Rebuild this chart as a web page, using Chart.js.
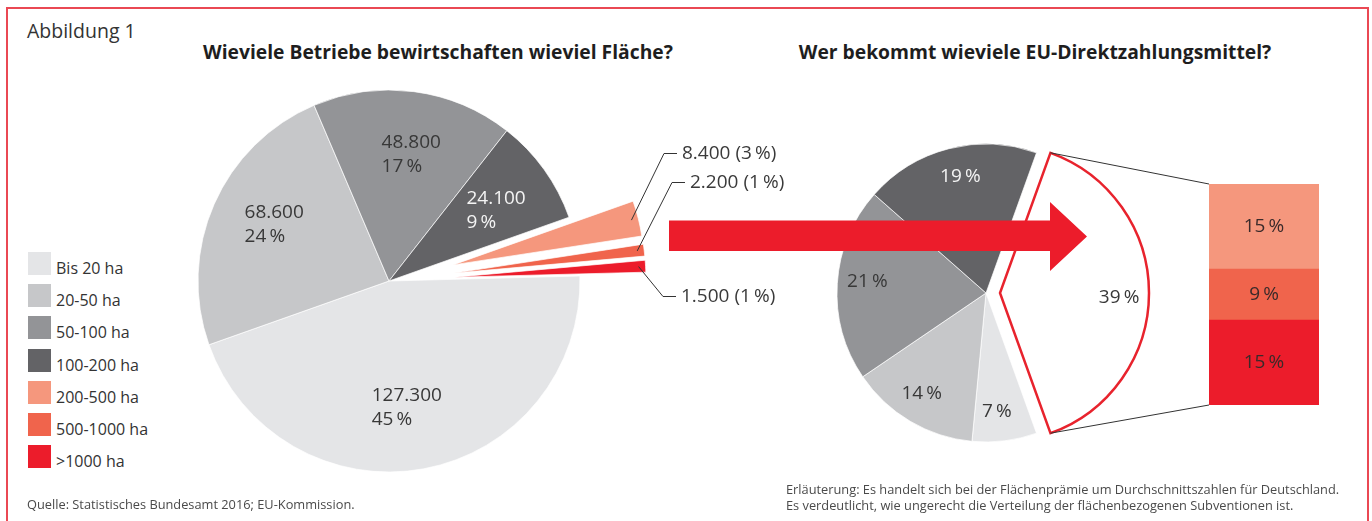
<!DOCTYPE html>
<html lang="de">
<head>
<meta charset="utf-8">
<title>Abbildung 1</title>
<script src="https://cdn.jsdelivr.net/npm/chart.js@4.4.1/dist/chart.umd.min.js"></script>
<style>
  html, body { margin: 0; padding: 0; background: #fff; }
  body { position: relative; width: 1372px; height: 521px; overflow: hidden;
         font-family: 'Open Sans', sans-serif; color: #3a3a3a; }
  .abs { position: absolute; white-space: nowrap; }
  #frame { position: absolute; left: 6px; top: 7px; width: 1363px; height: 560px;
           border: 2px solid #ea4853; box-sizing: border-box; }
  canvas { position: absolute; }
  .title { font-weight: 700; font-size: 19.3px; line-height: 24px; color: #1e1e1e; transform: translateX(-50%); }
  .small { font-size: 12.8px; line-height: 16px; color: #4a4a4a; }
  .callout { font-size: 19px; line-height: 24px; color: #3a3a3a; }
  .row { position: absolute; left: 28px; height: 23px; }
  .sw { position: absolute; left: 0; top: 0; width: 23px; height: 23px; }
  .tx { position: absolute; left: 28px; top: 5px; font-size: 16px; line-height: 23px; white-space: nowrap; color: #333; }
</style>
</head>
<body>
<div id="frame"></div>
<div class="abs" style="left:27px; top:19px; font-size:19.5px; line-height:24px; color:#333;">Abbildung 1</div>
<div class="abs title" style="left:438px; top:40px;">Wieviele Betriebe bewirtschaften wieviel Fläche?</div>
<div class="abs title" style="left:1035px; top:40px;">Wer bekommt wieviele EU-Direktzahlungsmittel?</div>
<div id="legend"></div>
<canvas id="farmPie" width="600" height="480" style="left:89px; top:41px;"></canvas>
<canvas id="paymentPie" width="400" height="400" style="left:786px; top:93px;"></canvas>
<canvas id="largeBar" width="110" height="221" style="left:1209px; top:184px;"></canvas>
<canvas id="overlay" width="1372" height="521" style="left:0; top:0; pointer-events:none;"></canvas>
<div id="callouts"></div>
<div class="abs small" style="left:27px; top:496px;">Quelle: Statistisches Bundesamt 2016; EU-Kommission.</div>
<div class="abs small" style="left:786px; top:481px;">Erläuterung: Es handelt sich bei der Flächenprämie um Durchschnittszahlen für Deutschland.<br>Es verdeutlicht, wie ungerecht die Verteilung der flächenbezogenen Subventionen ist.</div>

<script>
// Betriebe nach Größenklasse
const sizeClasses = ['Bis 20 ha', '20-50 ha', '50-100 ha', '100-200 ha', '200-500 ha', '500-1000 ha', '>1000 ha'];
const farmCounts = [127300, 68600, 48800, 24100, 8400, 2200, 1500];
const farmShares = [45, 24, 17, 9, 3, 1, 1];

// Anteil an den EU-Direktzahlungen
const paymentClasses = ['Bis 20 ha', '20-50 ha', '50-100 ha', '100-200 ha', 'über 200 ha'];
const paymentShares = [7, 14, 21, 19, 39];

// Aufteilung der 39 % auf die großen Betriebe
const largeClasses = ['200-500 ha', '500-1000 ha', '>1000 ha'];
const largeShares = [15, 9, 15];

const colors = ['#e4e5e7', '#c6c7c9', '#939497', '#636366', '#f5977d', '#f0644c', '#ec1c2b'];
const darkText = '#383838';
const lightText = '#f4f4f4';

const pct = v => v + '\u2009%';
const thousands = n => String(n).replace(/\B(?=(\d{3})+(?!\d))/g, '.');

// legend
const legend = document.getElementById('legend');
sizeClasses.forEach((name, i) => {
  const row = document.createElement('div');
  row.className = 'row';
  row.style.top = (252 + i * 32.2) + 'px';
  const sw = document.createElement('div');
  sw.className = 'sw';
  sw.style.background = colors[i];
  const tx = document.createElement('div');
  tx.className = 'tx';
  tx.textContent = name;
  row.appendChild(sw);
  row.appendChild(tx);
  legend.appendChild(row);
});

// moves single slices outwards, radius and angles stay as they are
function explodeSlices(shift) {
  return {
    id: 'explode',
    afterDatasetsUpdate(chart) {
      chart.getDatasetMeta(0).data.forEach((arc, i) => {
        const d = shift[i] || 0;
        const mid = (arc.startAngle + arc.endAngle) / 2;
        arc.x += Math.cos(mid) * d;
        arc.y += Math.sin(mid) * d;
      });
    }
  };
}

function sliceLabels(lines, textColors, dist, lineHeight, turn) {
  return {
    id: 'sliceLabels',
    afterDatasetsDraw(chart) {
      const ctx = chart.ctx;
      ctx.save();
      ctx.font = '19px "Open Sans"';
      ctx.textBaseline = 'middle';
      ctx.textAlign = 'left';
      chart.getDatasetMeta(0).data.forEach((arc, i) => {
        if (!lines[i]) return;
        const mid = (arc.startAngle + arc.endAngle) / 2 + turn * Math.PI / 180;
        const cx = arc.x + Math.cos(mid) * arc.outerRadius * dist;
        const cy = arc.y + Math.sin(mid) * arc.outerRadius * dist;
        const w = Math.max(...lines[i].map(l => ctx.measureText(l).width));
        ctx.fillStyle = textColors[i];
        lines[i].forEach((l, k) => {
          ctx.fillText(l, cx - w / 2, cy + (k - (lines[i].length - 1) / 2) * lineHeight);
        });
      });
      ctx.restore();
    }
  };
}

const farmLines = farmCounts.map((c, i) => farmShares[i] >= 5 ? [thousands(c), pct(farmShares[i])] : null);
const farmChart = new Chart(document.getElementById('farmPie'), {
  type: 'pie',
  data: {
    labels: sizeClasses,
    datasets: [{
      data: farmShares,
      backgroundColor: colors,
      borderColor: 'rgba(255,255,255,0.7)',
      borderWidth: 1
    }]
  },
  options: {
    responsive: false,
    animation: false,
    events: [],
    rotation: 88.5,
    radius: 191,
    layout: { padding: 0 },
    plugins: { legend: { display: false }, tooltip: { enabled: false } }
  },
  plugins: [
    explodeSlices([0, 0, 0, 0, 66, 66, 66]),
    sliceLabels(farmLines, [darkText, darkText, darkText, lightText], 0.67, 24, 2.5)
  ]
});

const paymentColors = colors.slice(0, 4).concat('#ffffff');
const paymentChart = new Chart(document.getElementById('paymentPie'), {
  type: 'pie',
  data: {
    labels: paymentClasses,
    datasets: [{
      data: paymentShares,
      backgroundColor: paymentColors,
      borderColor: ['rgba(255,255,255,0.7)', 'rgba(255,255,255,0.7)', 'rgba(255,255,255,0.7)', 'rgba(255,255,255,0.7)', '#e8232d'],
      borderWidth: [1, 1, 1, 1, 2.5],
      borderJoinStyle: 'miter'
    }]
  },
  options: {
    responsive: false,
    animation: false,
    events: [],
    rotation: 90 + paymentShares[4] * 1.8,
    radius: 149,
    layout: { padding: 0 },
    plugins: { legend: { display: false }, tooltip: { enabled: false } }
  },
  plugins: [
    explodeSlices([0, 0, 0, 0, 14]),
    sliceLabels(paymentShares.map(v => [pct(v)]), [darkText, darkText, darkText, lightText, darkText], 0.8, 24, 2)
  ]
});

const barLabels = {
  id: 'barLabels',
  afterDatasetsDraw(chart) {
    const ctx = chart.ctx;
    ctx.save();
    ctx.font = '19px "Open Sans"';
    ctx.textAlign = 'center';
    ctx.textBaseline = 'middle';
    ctx.fillStyle = '#3a2a2a';
    chart.data.datasets.forEach((ds, d) => {
      const bar = chart.getDatasetMeta(d).data[0];
      ctx.fillText(pct(ds.data[0]), bar.x, (bar.y + bar.base) / 2);
    });
    ctx.restore();
  }
};

// stacked from the bottom: >1000 ha, 500-1000 ha, 200-500 ha
const order = [2, 1, 0];
const barChart = new Chart(document.getElementById('largeBar'), {
  type: 'bar',
  data: {
    labels: ['über 200 ha'],
    datasets: order.map(k => ({
      label: largeClasses[k],
      data: [largeShares[k]],
      backgroundColor: colors[4 + k],
      borderWidth: 0,
      barPercentage: 1,
      categoryPercentage: 1
    }))
  },
  options: {
    responsive: false,
    animation: false,
    events: [],
    layout: { padding: 0 },
    scales: {
      x: { stacked: true, display: false },
      y: { stacked: true, display: false, min: 0, max: largeShares.reduce((a, b) => a + b, 0) }
    },
    plugins: { legend: { display: false }, tooltip: { enabled: false } }
  },
  plugins: [barLabels]
});

// overlay: arrow, leader lines, connectors
const ov = document.getElementById('overlay').getContext('2d');
const toPage = (chart, x, y) => [chart.canvas.offsetLeft + x, chart.canvas.offsetTop + y];

ov.fillStyle = '#ec1c2b';
ov.beginPath();
ov.moveTo(669, 220.5);
ov.lineTo(1050, 220.5);
ov.lineTo(1050, 202);
ov.lineTo(1087, 236.5);
ov.lineTo(1050, 271);
ov.lineTo(1050, 251);
ov.lineTo(669, 251);
ov.closePath();
ov.fill();

ov.strokeStyle = '#333';
ov.lineWidth = 1;

const calloutAnchors = { 4: [682, 153], 5: [690, 182], 6: [681, 296] };
const callouts = document.getElementById('callouts');
const farmArcs = farmChart.getDatasetMeta(0).data;
Object.keys(calloutAnchors).forEach(key => {
  const i = +key;
  const [tx, ty] = calloutAnchors[i];
  const arc = farmArcs[i];
  const mid = (arc.startAngle + arc.endAngle) / 2;
  const r = arc.outerRadius - 7;
  const [sx, sy] = toPage(farmChart, arc.x + Math.cos(mid) * r, arc.y + Math.sin(mid) * r);
  ov.beginPath();
  ov.moveTo(sx, sy);
  ov.lineTo(tx - 18, ty + 0.5);
  ov.lineTo(tx - 5, ty + 0.5);
  ov.stroke();
  const el = document.createElement('div');
  el.className = 'abs callout';
  el.style.left = tx + 'px';
  el.style.top = (ty - 13) + 'px';
  el.textContent = thousands(farmCounts[i]) + ' (' + pct(farmShares[i]) + ')';
  callouts.appendChild(el);
});

const bigArc = paymentChart.getDatasetMeta(0).data[4];
const topBar = barChart.getDatasetMeta(2).data[0];
const bottomBar = barChart.getDatasetMeta(0).data[0];
const arcTop = toPage(paymentChart, bigArc.x + Math.cos(bigArc.startAngle) * bigArc.outerRadius, bigArc.y + Math.sin(bigArc.startAngle) * bigArc.outerRadius);
const arcBottom = toPage(paymentChart, bigArc.x + Math.cos(bigArc.endAngle) * bigArc.outerRadius, bigArc.y + Math.sin(bigArc.endAngle) * bigArc.outerRadius);
const barTop = toPage(barChart, topBar.x - topBar.width / 2, topBar.y);
const barBottom = toPage(barChart, bottomBar.x - bottomBar.width / 2, bottomBar.base);
ov.beginPath();
ov.moveTo(arcTop[0], arcTop[1]);
ov.lineTo(barTop[0], barTop[1]);
ov.moveTo(arcBottom[0], arcBottom[1]);
ov.lineTo(barBottom[0], barBottom[1]);
ov.stroke();
</script>
</body>
</html>
